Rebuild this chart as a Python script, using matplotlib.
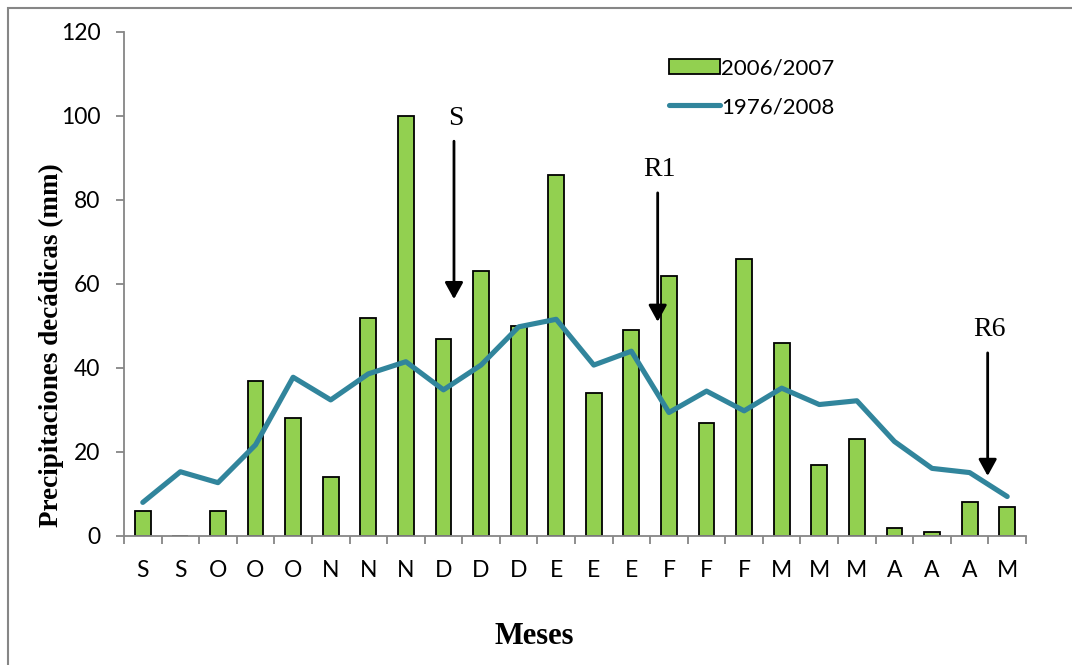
import matplotlib
matplotlib.use('Agg')
import matplotlib.pyplot as plt
import numpy as np
from matplotlib.patches import Rectangle, Patch
from matplotlib.lines import Line2D

# decadal rainfall (mm)
meses = ['S', 'S', 'O', 'O', 'O', 'N', 'N', 'N', 'D', 'D', 'D', 'E',
         'E', 'E', 'F', 'F', 'F', 'M', 'M', 'M', 'A', 'A', 'A', 'M']
lluvia_0607 = [6, 0, 6, 37, 28, 14, 52, 100, 47, 63, 50, 86,
               34, 49, 62, 27, 66, 46, 17, 23, 2, 1, 8, 7]
lluvia_7608 = [8.0, 15.3, 12.7, 21.7, 37.8, 32.4, 38.6, 41.5, 34.8, 40.7, 49.8, 51.6,
               40.7, 44.0, 29.4, 34.5, 29.8, 35.2, 31.3, 32.2, 22.5, 16.1, 15.1, 9.4]

# phenological stages: label, x position, arrow start, arrow end
etapas = ['S', 'R1', 'R6']
etapa_x = [8.28, 13.7, 22.48]
etapa_y0 = [94, 81.7, 43.6]
etapa_y1 = [56.4, 51, 14.3]

verde = '#92D050'
azul = '#31859C'
gris = '#868686'
sans = ['Lato', 'DejaVu Sans']
serif = ['Liberation Serif', 'DejaVu Serif']

fig = plt.figure(figsize=(10.72, 6.65), dpi=100)
ax = fig.add_axes([124/1072, 1-536/665, (1026-124)/1072, (536-32)/665])

x = np.arange(len(meses))
ax.bar(x, lluvia_0607, width=0.42, color=verde, edgecolor='black', linewidth=1.3, zorder=2)
ax.plot(x, lluvia_7608, color=azul, lw=3.7, solid_capstyle='round', solid_joinstyle='round', zorder=3)

for lab, ex, y0, y1 in zip(etapas, etapa_x, etapa_y0, etapa_y1):
	ax.annotate('', xy=(ex, y1), xytext=(ex, y0),
		arrowprops=dict(arrowstyle='-|>,head_length=1.0,head_width=0.55', color='black', lw=2, shrinkA=0, shrinkB=0))
	ax.text(ex + 0.05, y0 + 2.5, lab, ha='center', va='bottom', fontsize=20, family=serif)

ax.set_xlim(-0.5, len(meses) - 0.5)
ax.set_ylim(0, 120)
ax.set_yticks(range(0, 121, 20))
ax.set_xticks(x)
ax.set_xticklabels(meses)
ax.set_xticks(np.arange(-0.5, len(meses), 1), minor=True)
ax.tick_params(axis='x', which='major', length=0, pad=17, labelsize=16.5)
ax.tick_params(axis='x', which='minor', length=6, width=1.3, color=gris)
ax.tick_params(axis='y', length=6, width=1.3, color=gris, labelsize=16.5, pad=11)
for lbl in ax.get_xticklabels() + ax.get_yticklabels():
	lbl.set_family(sans)

for s in ['top', 'right']:
	ax.spines[s].set_visible(False)
for s in ['left', 'bottom']:
	ax.spines[s].set_color(gris)
	ax.spines[s].set_linewidth(1.3)

ax.set_ylabel('Precipitaciones decádicas (mm)', fontsize=19.5, fontweight='bold', family=serif)
ax.yaxis.set_label_coords(-0.081, 0.379)
ax.set_xlabel('Meses', fontsize=22, fontweight='bold', family=serif)
ax.xaxis.set_label_coords(0.455, -0.2)
ax.xaxis.label.set_va('center')
ax.yaxis.label.set_va('center')

handles = [Patch(facecolor=verde, edgecolor='black', linewidth=1.3, label='2006/2007'),
	Line2D([0], [0], color=azul, lw=3.7, solid_capstyle='round', label='1976/2008')]
fig.legend(handles=handles, loc='upper left', bbox_to_anchor=(658/1072, 1-47/665), frameon=False,
	prop={'family': sans, 'size': 16}, handlelength=2.3, handletextpad=0.05, labelspacing=0.85, borderpad=0)

fig.patches.append(Rectangle((8/1072, -0.1), 1.2, 1.1 - 8/665, transform=fig.transFigure,
	fill=False, edgecolor=gris, linewidth=1.5))

fig.savefig('out.png', dpi=100)
